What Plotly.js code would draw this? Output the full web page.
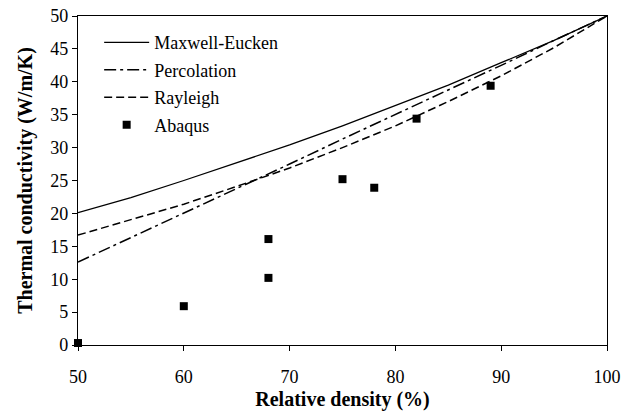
<!DOCTYPE html>
<html>
<head>
<meta charset="utf-8">
<script src="https://cdn.plot.ly/plotly-3.0.1.min.js"></script>
<style>html,body{margin:0;padding:0;background:#fff;}#chart{width:632px;height:414px;}</style>
</head>
<body>
<div id="chart"></div>
<script>
// Model curves
var density = [50, 55, 60, 65, 70, 75, 80, 85, 90, 95, 100];
var maxwellEucken = [20.1, 22.4, 25.0, 27.7, 30.4, 33.3, 36.4, 39.5, 42.9, 46.3, 50.0];
var percolation = [12.6, 16.3, 20.0, 23.8, 27.5, 31.3, 35.0, 38.8, 42.5, 46.3, 50.0];
var rayleigh = [16.7, 19.0, 21.4, 24.1, 26.9, 30.0, 33.3, 37.0, 40.9, 45.2, 50.0];
// Abaqus simulation points
var abaqusX = [50, 60, 68, 68, 75, 78, 82, 89];
var abaqusY = [0.3, 5.9, 16.1, 10.2, 25.2, 23.9, 34.4, 39.4];

var serif = "Liberation Serif";

var traces = [
  {x: density, y: maxwellEucken, name: "Maxwell-Eucken", mode: "lines", legendgroup: "a",
   line: {color: "#000", width: 1.3, dash: "solid"}},
  {x: density, y: percolation, name: "Percolation", mode: "lines", legendgroup: "b",
   line: {color: "#000", width: 1.5, dash: "12px,4px,3px,4px"}},
  {x: density, y: rayleigh, name: "Rayleigh", mode: "lines", legendgroup: "c",
   line: {color: "#000", width: 1.5, dash: "8px,4px"}},
  {x: abaqusX, y: abaqusY, name: "Abaqus", mode: "markers", cliponaxis: false, legendgroup: "d",
   marker: {symbol: "square", size: 8, color: "#000"}}
];

var layout = {
  width: 632, height: 414,
  margin: {l: 78, r: 25, t: 16, b: 69},
  paper_bgcolor: "#fff", plot_bgcolor: "#fff",
  font: {family: serif, color: "#000", size: 18},
  showlegend: true,
  legend: {x: 0.04, y: 0.975, xanchor: "left", yanchor: "top", itemwidth: 45,
           bgcolor: "rgba(0,0,0,0)", font: {family: serif, size: 18, color: "#000"},
           tracegroupgap: 1},
  xaxis: {
    range: [50, 100], tickvals: [50, 60, 70, 80, 90, 100],
    showgrid: false, zeroline: false, showline: true, linecolor: "#000", linewidth: 1.2,
    mirror: true, ticks: "outside", ticklen: 5, tickcolor: "#000",
    tickfont: {family: serif, size: 18}, ticklabelstandoff: 10,
    title: {text: "<b>Relative density (%)</b>", font: {family: serif, size: 20}, standoff: 6}
  },
  yaxis: {
    range: [0, 50], tickvals: [0, 5, 10, 15, 20, 25, 30, 35, 40, 45, 50],
    showgrid: false, zeroline: false, showline: true, linecolor: "#000", linewidth: 1.2,
    mirror: true, ticks: "outside", ticklen: 5, tickcolor: "#000",
    tickfont: {family: serif, size: 18},
    title: {text: "<b>Thermal conductivity (W/m/K)</b>", font: {family: serif, size: 20}, standoff: 12}
  }
};

Plotly.newPlot("chart", traces, layout, {displayModeBar: false, staticPlot: true});
</script>
</body>
</html>
